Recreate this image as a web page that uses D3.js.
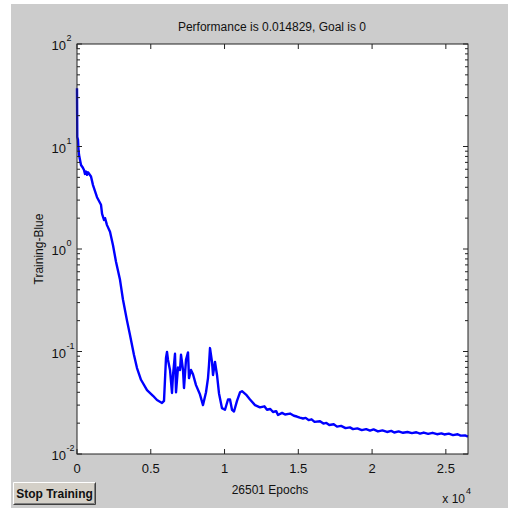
<!DOCTYPE html>
<html><head><meta charset="utf-8">
<script src="https://cdn.jsdelivr.net/npm/d3@7"></script>
<style>
html,body{margin:0;padding:0;background:#fff;}
text{font-family:"Liberation Sans",Arial,sans-serif;fill:#111;}
</style></head>
<body><svg id="c" width="512" height="510"></svg>
<script>
const titleText = "Performance is 0.014829, Goal is 0";
const yLabel = "Training-Blue";
const xLabel = "26501 Epochs";
const xTicks = [0, 5000, 10000, 15000, 20000, 25000];
const xTickLabels = ["0", "0.5", "1", "1.5", "2", "2.5"];
const yExponents = [2, 1, 0, -1, -2];
const epochs = [0, 20, 68, 100, 136, 271, 400, 474, 540, 610, 680, 746, 949, 1084, 1356, 1627, 1700, 1830, 1900, 2033, 2237, 2440, 2643, 2915, 3118, 3389, 3592, 3863, 4067, 4338, 4745, 5151, 5422, 5761, 5897, 6032, 6100, 6168, 6304, 6439, 6507, 6642, 6710, 6846, 6981, 7049, 7185, 7252, 7388, 7524, 7591, 7727, 7862, 8066, 8337, 8540, 8744, 8879, 8947, 9015, 9150, 9218, 9354, 9489, 9625, 9828, 10031, 10235, 10370, 10506, 10641, 10845, 11048, 11184, 11455, 11726,
  12065, 12400, 12700, 12878, 13100, 13285, 13500, 13624, 13900, 14100, 14437, 14700, 14900, 15100, 15318, 15500, 15700, 15900, 16100, 16470, 16700, 16900, 17100, 17400, 17623, 17900, 18200, 18500, 18707, 19000, 19300, 19600, 19859, 20100, 20400, 20700, 21012, 21300, 21500, 21800, 22096, 22400, 22700, 23000, 23248, 23500, 23800, 24100, 24401, 24700, 24900, 25200, 25485, 25800, 26000, 26300, 26501];
const perf = [37, 12.4, 11.6, 9.5, 8.3, 6.6, 6.2, 5.9, 5.4, 5.7, 5.3, 5.6, 5.1, 4.2, 3.2, 2.7, 2.2, 1.92, 2.0, 1.71, 1.47, 1.09, 0.75, 0.5, 0.32, 0.2, 0.145, 0.0925, 0.069, 0.053, 0.042, 0.037, 0.0336, 0.0315, 0.033, 0.0865, 0.099, 0.0826, 0.066, 0.0394, 0.059, 0.095, 0.04, 0.07, 0.066, 0.093, 0.066, 0.044, 0.083, 0.098, 0.055, 0.066, 0.06, 0.047, 0.038, 0.03, 0.04, 0.055, 0.074, 0.108, 0.079, 0.059, 0.079, 0.059, 0.039, 0.028, 0.027, 0.034, 0.034, 0.027, 0.026, 0.033, 0.040, 0.041, 0.038, 0.034,
  0.030, 0.0285, 0.0292, 0.027, 0.0275, 0.0257, 0.0262, 0.024, 0.0252, 0.0243, 0.0248, 0.0236, 0.0232, 0.0226, 0.0222, 0.0225, 0.0214, 0.0218, 0.0206, 0.0209, 0.0198, 0.0201, 0.0192, 0.0195, 0.0185, 0.0188, 0.0179, 0.0182, 0.0175, 0.0178, 0.0171, 0.0175, 0.0169, 0.0174, 0.0166, 0.017, 0.0164, 0.0168, 0.0162, 0.0166, 0.0161, 0.0164, 0.016, 0.0163, 0.0158, 0.0162, 0.0157, 0.0161, 0.0156, 0.0159, 0.0155, 0.0158, 0.0153, 0.0156, 0.0151, 0.0152, 0.0148];

const svg = d3.select("#c");
svg.append("rect").attr("x",11).attr("y",4).attr("width",497).attr("height",504).attr("fill","#cccccc");

const L=77,R=468,T=44,B=454;
const x = d3.scaleLinear().domain([0,26501]).range([L,R]);
const y = d3.scaleLog().domain([0.01,100]).range([B,T]);

svg.append("rect").attr("x",L).attr("y",T).attr("width",R-L).attr("height",B-T).attr("fill","#fff");

// line
const line = d3.line().x((d,i)=>x(epochs[i])).y(d=>y(d));
svg.append("path").datum(perf).attr("d",line).attr("fill","none").attr("stroke","#0000ff").attr("stroke-width",2.4).attr("stroke-linejoin","round");

// frame
const g = svg.append("g").attr("stroke","#222").attr("stroke-width",1);
g.append("rect").attr("x",L).attr("y",T).attr("width",R-L).attr("height",B-T).attr("fill","none");

xTicks.forEach(t=>{
  g.append("line").attr("x1",x(t)).attr("x2",x(t)).attr("y1",B).attr("y2",B-5);
  g.append("line").attr("x1",x(t)).attr("x2",x(t)).attr("y1",T).attr("y2",T+5);
});
yExponents.forEach(e=>{
  const v = Math.pow(10,e);
  g.append("line").attr("x1",L).attr("x2",L+5).attr("y1",y(v)).attr("y2",y(v));
  g.append("line").attr("x1",R).attr("x2",R-5).attr("y1",y(v)).attr("y2",y(v));
  if(e>-2){
    for(let k=2;k<=9;k++){
      const m=k*Math.pow(10,e-1);
      g.append("line").attr("x1",L).attr("x2",L+3).attr("y1",y(m)).attr("y2",y(m));
      g.append("line").attr("x1",R).attr("x2",R-3).attr("y1",y(m)).attr("y2",y(m));
    }
  }
});

xTicks.forEach((t,i)=>{
  svg.append("text").attr("x",x(t)).attr("y",473).attr("text-anchor","middle").attr("font-size",13).text(xTickLabels[i]);
});
yExponents.forEach(e=>{
  svg.append("text").attr("x",66).attr("y",y(Math.pow(10,e))+6).attr("text-anchor","end").attr("font-size",13).text("10");
  svg.append("text").attr("x",66.5).attr("y",y(Math.pow(10,e))-3).attr("font-size",9).text(String(e));
});

svg.append("text").attr("x",272).attr("y",31).attr("text-anchor","middle").attr("font-size",12).text(titleText);
svg.append("text").attr("transform","translate(43,249) rotate(-90)").attr("text-anchor","middle").attr("font-size",12).text(yLabel);
svg.append("text").attr("x",270).attr("y",494).attr("text-anchor","middle").attr("font-size",12).text(xLabel);
svg.append("text").attr("x",465).attr("y",503).attr("text-anchor","end").attr("font-size",12).text("x 10");
svg.append("text").attr("x",466).attr("y",494).attr("font-size",9).text("4");

const bx=13,by=482,bw=83,bh=23;
svg.append("rect").attr("x",bx).attr("y",by).attr("width",bw).attr("height",bh).attr("fill","#d4d0c8");
svg.append("path").attr("d",`M${bx+0.5},${by+bh-0.5}V${by+0.5}H${bx+bw-0.5}`).attr("stroke","#fff").attr("fill","none");
svg.append("path").attr("d",`M${bx+0.5},${by+bh-0.5}H${bx+bw-0.5}V${by+0.5}`).attr("stroke","#404040").attr("fill","none");
svg.append("path").attr("d",`M${bx+1.5},${by+bh-1.5}H${bx+bw-1.5}V${by+1.5}`).attr("stroke","#808080").attr("fill","none");
svg.append("text").attr("x",bx+bw/2).attr("y",by+16).attr("text-anchor","middle").attr("font-size",12).attr("font-weight","bold").text("Stop Training");
</script></body></html>
